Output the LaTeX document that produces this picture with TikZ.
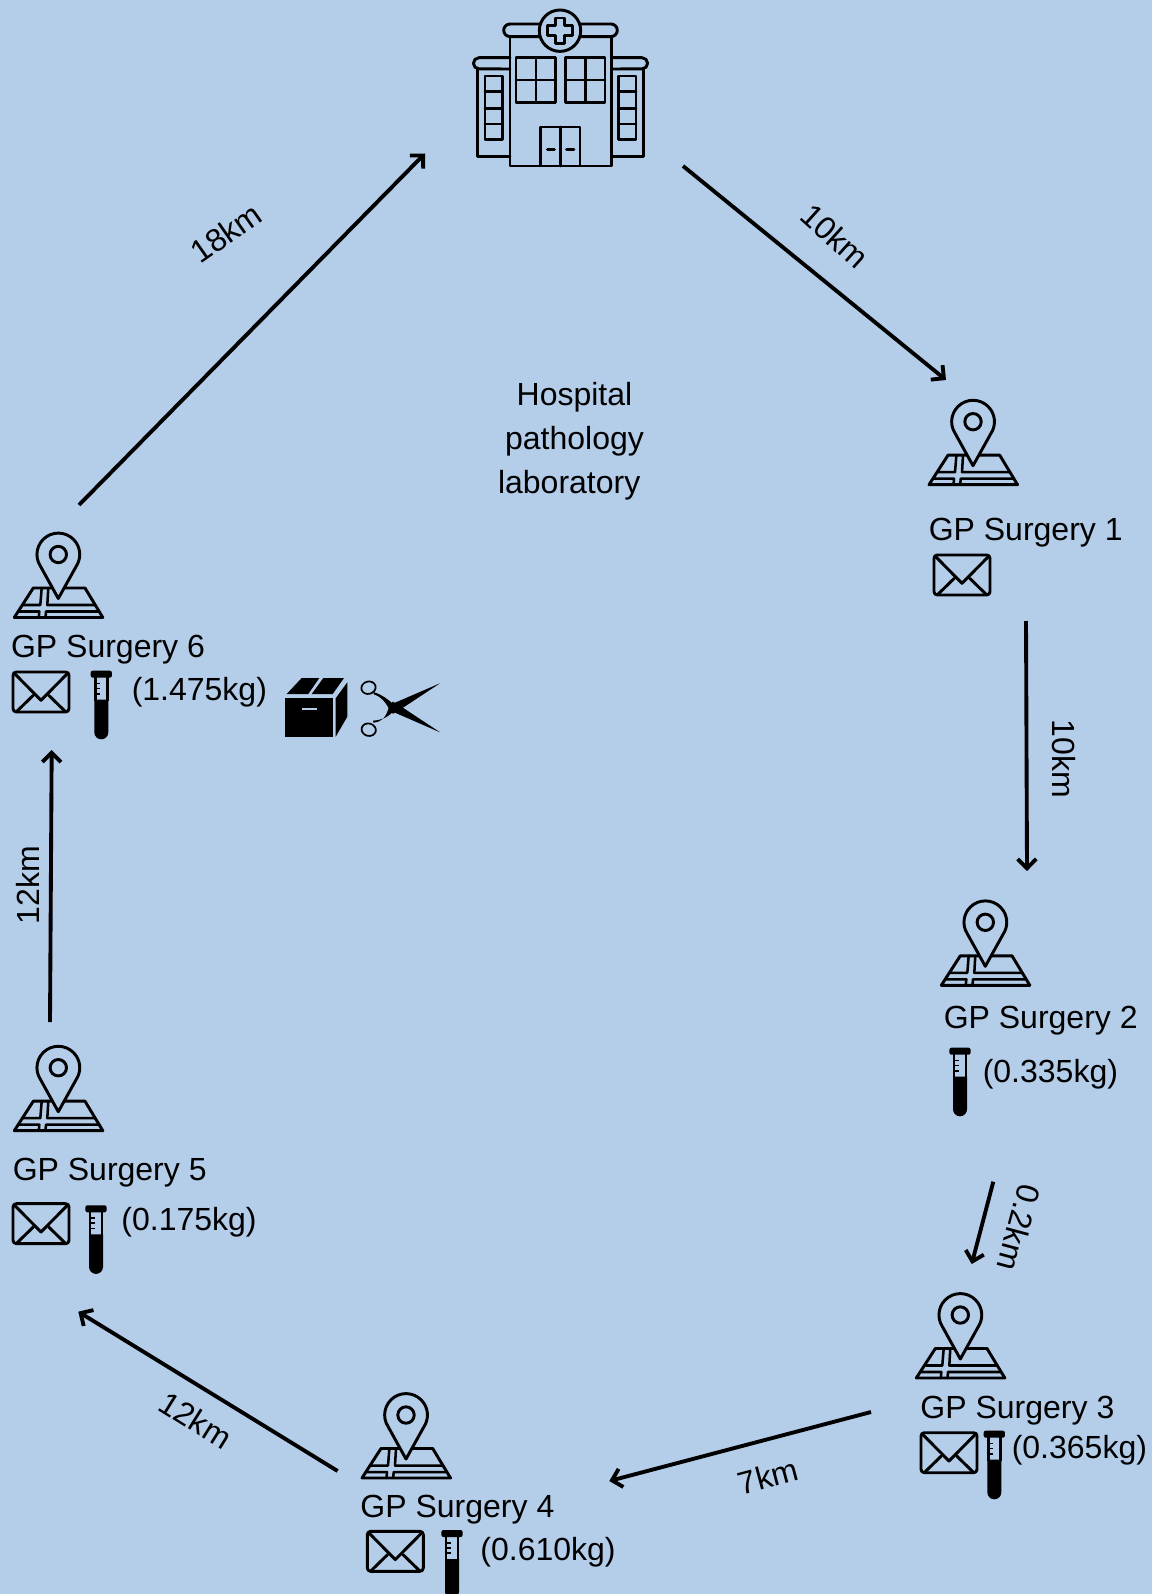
\documentclass[tikz,border=0pt]{standalone}
\usepackage{fontspec}
\setmainfont{Liberation Sans}
\usetikzlibrary{arrows.meta}
\definecolor{skyback}{HTML}{B4CDE9}
\tikzset{
  icon/.style={line width=2.2pt, line join=round, line cap=round},
  pinmap/.pic={
    \draw[icon] (-25,34.5) -- (26.7,34.5) -- (44.5,64) -- (-44,64) -- cycle;
    \draw[icon, line width=1.9pt] (-35,51.5) -- (-18,51.5) -- (-16.6,34.5);
    \draw[icon, line width=1.9pt] (36.5,51.5) -- (-11,51.5) -- (-10,34.5);
    \draw[icon, line width=1.9pt] (-39,58) -- (-19,58) -- (-19.5,64);
    \draw[icon, line width=1.9pt] (40.5,58) -- (-12.3,58) -- (-12.8,64);
    \draw[icon, fill=skyback] (0,45) -- (-17.8,12.8) arc[start angle=146.5, end angle=393.5, radius=21.4] -- cycle;
    \draw[icon] (0,1) circle[radius=8.2];
  },
  mail/.pic={
    \draw[icon, rounded corners=2.5pt] (-28,-20) rectangle (28,20);
    \draw[icon] (-27,-19) -- (0,8.3) -- (27,-19);
    \draw[icon] (-24.3,19.5) -- (-7.7,3.3);
    \draw[icon] (24.3,19.5) -- (7.7,3.3);
  },
  tube/.pic={
    \fill[rounded corners=1.5pt] (-10.6,0) rectangle (10.6,7);
    \draw[line width=2pt] (-6,6) -- (-6,30);
    \draw[line width=2pt] (6,6) -- (6,30);
    \fill (-7,29) -- (-7,61.6) arc[start angle=180, end angle=0, radius=7] -- (7,29) -- cycle;
    \draw[line width=1.3pt] (-6,12.7) -- (-1.5,12.7);
    \draw[line width=1.3pt] (-6,17.7) -- (-1.5,17.7);
    \draw[line width=1.3pt] (-6,23.3) -- (-1.5,23.3);
  },
  crate/.pic={
    \fill (285,697.7) rectangle (332.7,737.3);
    \fill (286.7,694) -- (301.7,678) -- (319.3,678) -- (308.3,694) -- cycle;
    \fill (311.7,694) -- (323.3,678) -- (344,678) -- (332.7,694) -- cycle;
    \fill (335.7,698.3) -- (347.3,682.3) -- (347.3,716.7) -- (335.7,736.7) -- cycle;
    \draw[skyback, line width=1.3pt] (301.7,708.7) -- (316.7,708.7);
  },
  shears/.pic={
    \fill (45,-24.4) -- (0,-5) -- (-7,2) -- (-2,6) -- (8,0) -- cycle;
    \fill (45,24.6) -- (0,5) -- (-7,-2) -- (-2,-6) -- (8,0) -- cycle;
    \fill (-1,-3) .. controls (-8,-9) and (-12,-12.5) .. (-21,-15.5) -- (-21.5,-13.5) .. controls (-13,-10.5) and (-10,-6) .. (-6,1) -- cycle;
    \fill (-1,3) .. controls (-7,9.5) and (-12,12) .. (-22,13) -- (-21.5,15) .. controls (-13,14) and (-9,10) .. (-6,-1) -- cycle;
    \draw[line width=1.3pt, rotate around={15:(-26.5,-20)}] (-26.5,-20) ellipse[x radius=7.2, y radius=6.2];
    \draw[line width=1.3pt, rotate around={-15:(-26.3,22)}] (-26.3,22) ellipse[x radius=7.2, y radius=6.2];
  },
  hospital/.pic={
    \draw[icon] (477.3,69) -- (477.3,156.7) -- (510,156.7);
    \draw[icon] (643.3,69) -- (643.3,156.7) -- (611.7,156.7);
    \draw[icon] (510,57.7) -- (479,57.7) arc[start angle=270, end angle=90, radius=5.6] -- (510,69);
    \draw[icon] (611.7,57.7) -- (642,57.7) arc[start angle=-90, end angle=90, radius=5.6] -- (611.7,69);
    \draw[icon] (510,36.7) rectangle (611.7,166);
    \draw[icon] (510,24) arc[start angle=270, end angle=90, radius=6.3] -- (510,36.7);
    \draw[icon] (510,24) -- (611,24) arc[start angle=-90, end angle=90, radius=6.3] -- (510,36.7);
    \draw[icon] (485,76) rectangle (502.7,139.3);
    \draw[icon] (485,91.7) -- (502.7,91.7) (485,108.3) -- (502.7,108.3) (485,124) -- (502.7,124);
    \draw[icon] (618.3,76) rectangle (636,139.3);
    \draw[icon] (618.3,91.7) -- (636,91.7) (618.3,108.3) -- (636,108.3) (618.3,124) -- (636,124);
    \draw[icon] (516,57.7) rectangle (555.7,102.7);
    \draw[icon] (536,57.7) -- (536,102.7) (516,80) -- (555.7,80);
    \draw[icon] (565.7,57.7) rectangle (605,102.7);
    \draw[icon] (585.7,57.7) -- (585.7,102.7) (565.7,80) -- (605,80);
    \draw[icon] (540.7,127) rectangle (580,166);
    \draw[icon] (560.3,127) -- (560.3,166);
    \draw[icon] (547.3,149.7) -- (554.3,149.7) (566.7,149.7) -- (574,149.7);
    \draw[icon, fill=skyback] (560,30.7) circle[radius=20.7];
    \draw[icon] (555.2,18) -- (564.8,18) -- (564.8,25.9) -- (572.7,25.9) -- (572.7,35.5) -- (564.8,35.5) -- (564.8,43.4) -- (555.2,43.4) -- (555.2,35.5) -- (547.3,35.5) -- (547.3,25.9) -- (555.2,25.9) -- cycle;
  },
}
\begin{document}
\begin{tikzpicture}[
  x=0.75pt, y=-0.75pt,
  every node/.style={font=\fontsize{24}{33}\selectfont, inner sep=0pt, text=black},
  label/.style={anchor=base west},
  dist/.style={anchor=center},
  arrow/.style={-{Straight Barb[length=7pt, width=14pt]}, line width=2.9pt},
]
  \useasboundingbox (0,0) rectangle (1152,1594);
  \fill[skyback] (0,0) rectangle (1152,1594);

  \pic {hospital};
  \node[align=center, anchor=base] (lab) at (574.5,493) {Hospital\\pathology\\laboratory\hspace*{8pt}};

  \pic at (973,420.7) {pinmap};
  \pic at (985.3,921.3) {pinmap};
  \pic at (960.3,1314) {pinmap};
  \pic at (406,1414) {pinmap};
  \pic at (58.3,1066.7) {pinmap};
  \pic at (58.3,553.5) {pinmap};

  \node[label] (gp1) at (928.5,540) {GP Surgery 1};
  \node[label] (gp2) at (943.5,1028.7) {GP Surgery 2};
  \node[label] (gp3) at (920.2,1418.7) {GP Surgery 3};
  \node[label] (gp4) at (360.2,1517.7) {GP Surgery 4};
  \node[label] (gp5) at (12.5,1180.3) {GP Surgery 5};
  \node[label] (gp6) at (10.8,657.7) {GP Surgery 6};

  \node[label] (kg2) at (982.5,1082.7) {(0.335kg)};
  \node[label] (kg3) at (1011.5,1458.7) {(0.365kg)};
  \node[label] (kg4) at (480.2,1560) {(0.610kg)};
  \node[label] (kg5) at (121.2,1230) {(0.175kg)};
  \node[label] (kg6) at (131.5,700) {(1.475kg)};

  \pic at (962,575) {mail};
  \pic at (949,1452.7) {mail};
  \pic at (395.3,1551.3) {mail};
  \pic at (41,1223.7) {mail};
  \pic at (41,692) {mail};

  \pic at (960,1047.7) {tube};
  \pic at (994.3,1430.7) {tube};
  \pic at (452,1530) {tube};
  \pic at (96,1205.3) {tube};
  \pic at (101.3,670.7) {tube};

  \pic {crate};
  \pic at (395,707.7) {shears};

  % route
  \coordinate (h0) at (683,166);
  \coordinate (s1) at (946,380);
  \coordinate (s1b) at (1026,621);
  \coordinate (s2) at (1027,871);
  \coordinate (s2b) at (993.3,1181.7);
  \coordinate (s3) at (971.7,1264);
  \coordinate (s3b) at (871,1412);
  \coordinate (s4) at (609.3,1481);
  \coordinate (s4b) at (337.6,1471);
  \coordinate (s5) at (78.3,1311.7);
  \coordinate (s5b) at (50,1022);
  \coordinate (s6) at (51.7,750);
  \coordinate (s6b) at (79,505);
  \coordinate (h1) at (425,153.5);
  \draw[arrow] (h0) -- (s1);
  \draw[arrow] (s1b) -- (s2);
  \draw[arrow] (s2b) -- (s3);
  \draw[arrow] (s3b) -- (s4);
  \draw[arrow] (s4b) -- (s5);
  \draw[arrow] (s5b) -- (s6);
  \draw[arrow] (s6b) -- (h1);

  \node[dist, rotate=-42] (d1) at (835,236) {10km};
  \node[dist, rotate=-90] (d2) at (1064,759) {10km};
  \node[dist, rotate=-105] (d3) at (1019,1228) {0.2km};
  \node[dist, rotate=15] (d4) at (768,1476) {7km};
  \node[dist, rotate=-32] (d5) at (196,1420) {12km};
  \node[dist, rotate=90] (d6) at (27.5,885) {12km};
  \node[dist, rotate=35] (d7) at (226,233) {18km};
\end{tikzpicture}
\end{document}
